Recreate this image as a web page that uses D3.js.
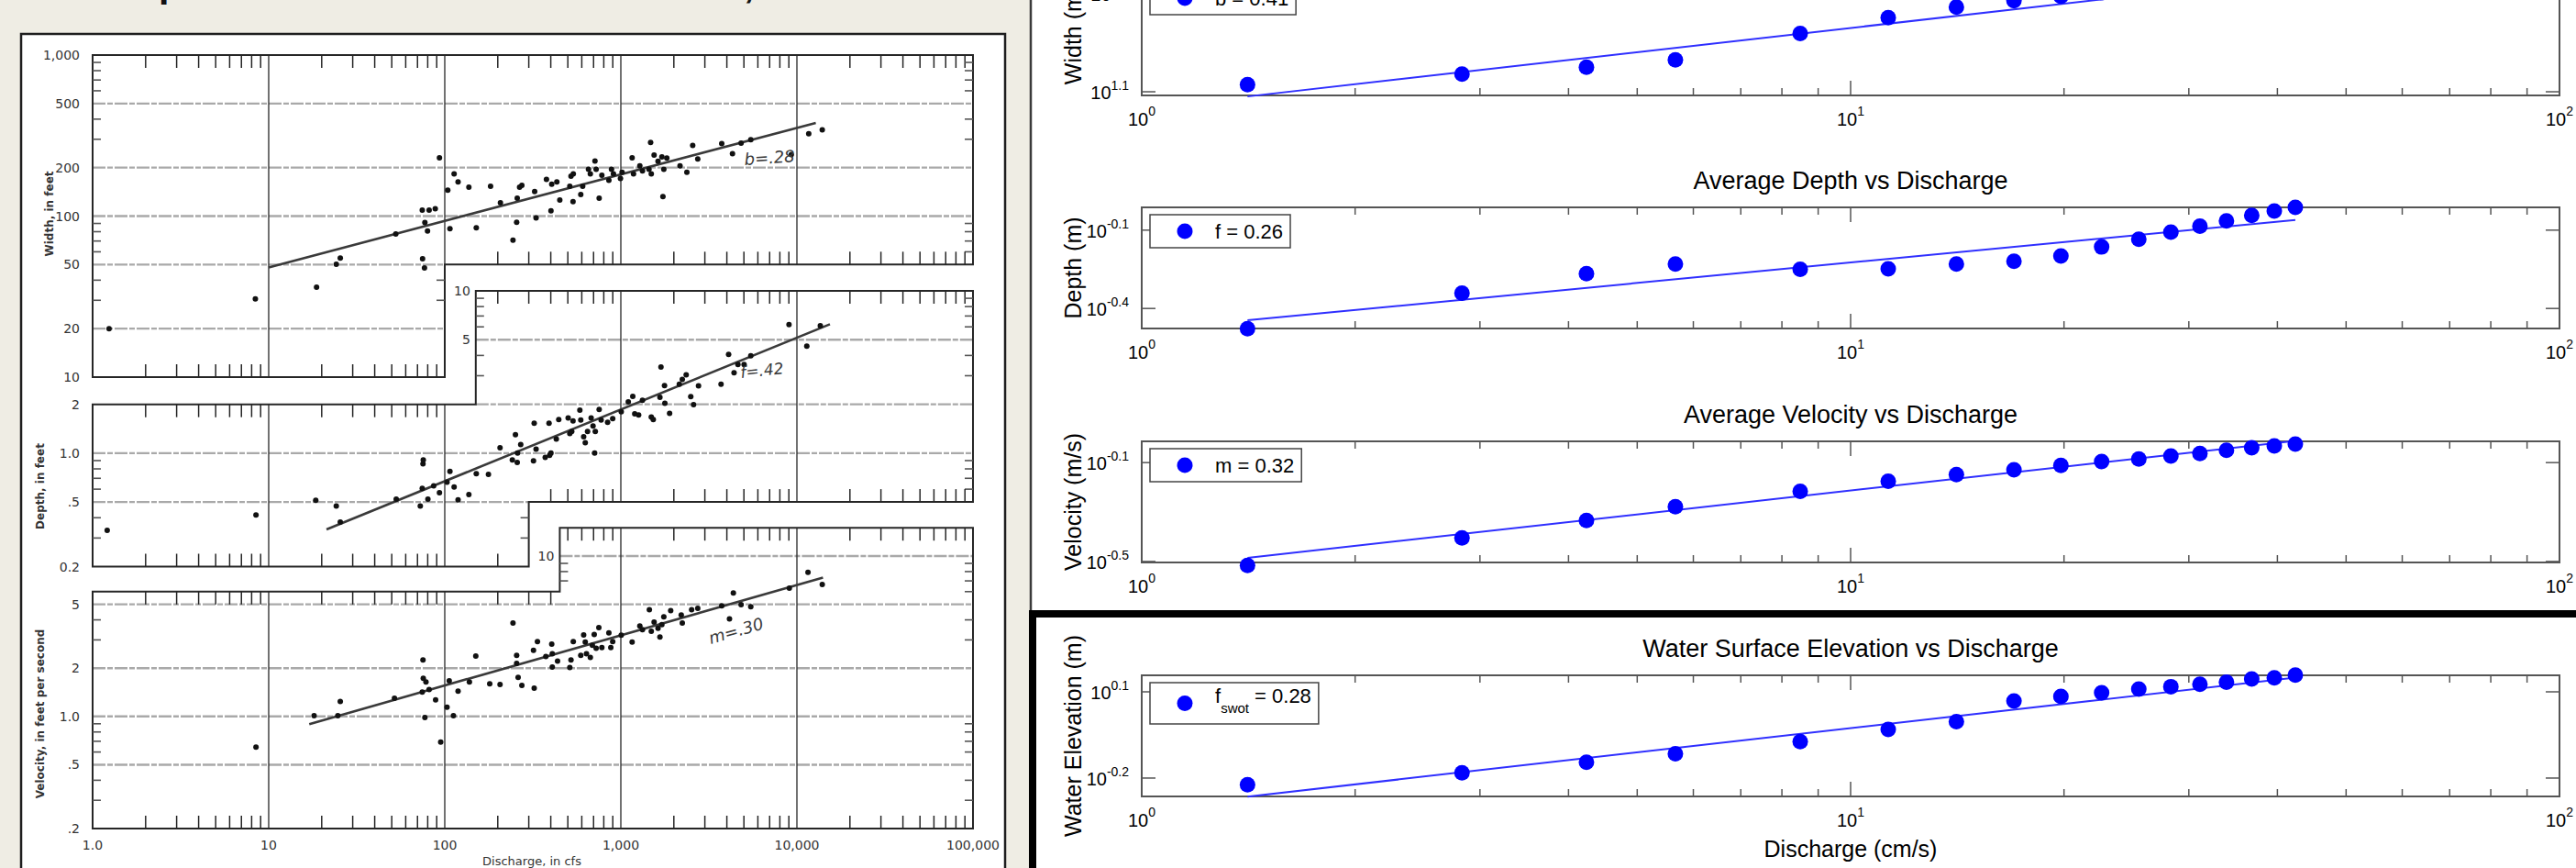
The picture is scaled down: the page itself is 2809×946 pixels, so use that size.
<!DOCTYPE html>
<html><head><meta charset="utf-8">
<script src="https://cdn.jsdelivr.net/npm/d3@7"></script>
<style>html,body{margin:0;padding:0;background:#efede4;overflow:hidden}</style>
</head><body>
<svg id="c" width="2809" height="946"></svg>
<script>
// ===================== DATA =====================
// --- Left: scanned field data (discharge in cfs) ---
const widthQ = [1.24,8.4,18.7,24.2,25.5,52.7,74.5,81.5,88.3,77.1,79.8,74.8,76.7,93.3,104,107,113,119,137,151,182,207,244,256,258,266,274,324,330,378,401,405,433,450,513,521,535,537,592,607,655,671,713,724,753,780,855,885,908,995,1016,1159,1180,1282,1327,1445,1476,1489,1545,1626,1710,1734,1754,1824,2168,2371,2559,2735,3741,4305,4819,5470,9290,11670,13930];
const widthFt = [20,30.6,36.2,50.2,54.8,77.4,109,109,111,91.2,80.9,54.3,47.6,230,145,83.4,183,163,151,84.5,153,121,70.8,91.6,129,151,155,142,97.3,169,108,158,163,126,153,177,123,183,136,153,195,183,220,195,129,179,167,195,183,171,187,230,183,205,191,195,287,183,239,219,233,132,195,229,205,187,275,226,282,244,284,298,241,325,343];
const depthQ = [1.21,8.47,18.5,24.2,25.5,53.0,72.6,74.5,75.2,75.5,80.2,86.5,93.3,103,107,113,119,137,151,177,206,242,252,258,259,270,319,322,330,372,391,394,401,430,444,502,513,526,535,585,592,615,628,647,678,695,710,716,753,773,841,899,1005,1102,1169,1199,1262,1327,1489,1528,1667,1690,1778,1770,1892,2148,2234,2350,2495,2588,2761,3707,4093,4395,4624,5012,5470,9016,11380,13580];
const depthFt = [0.334,0.416,0.512,0.473,0.376,0.521,0.473,0.607,0.859,0.908,0.521,0.628,0.571,0.662,0.771,0.619,0.516,0.556,0.748,0.741,1.08,0.908,1.30,0.877,1.00,1.13,0.897,1.53,1.06,0.942,1.53,0.970,1.00,1.22,1.61,1.65,1.32,1.36,1.58,1.84,1.60,1.26,1.16,1.36,1.65,1.47,1.00,1.36,1.86,1.60,1.55,1.63,1.80,2.07,2.24,1.75,1.72,2.12,1.67,1.61,2.21,3.39,2.03,2.61,1.76,2.66,2.85,3.04,2.23,1.99,2.60,2.66,4.06,3.13,3.52,3.52,3.98,6.19,4.57,6.10];
const velQ = [8.47,18.1,24.7,25.5,51.8,75.2,75.5,78.2,74.5,77.1,81.5,88.7,94.8,103,106,112,119,138,150,180,206,244,256,256,261,274,319,322,336,375,405,408,408,437,513,521,537,592,615,628,638,671,689,706,724,750,780,855,877,899,1005,1159,1282,1327,1452,1489,1545,1626,1667,1710,1754,1919,2203,2234,2523,2735,3741,4140,4355,4819,5470,9057,11560,13930];
const velFps = [0.643,1.01,1.01,1.24,1.30,2.25,1.73,1.64,1.42,0.986,1.47,1.27,0.693,1.14,1.67,1.01,1.44,1.64,2.38,1.60,1.58,3.82,2.40,2.14,1.75,1.56,2.58,1.50,2.93,2.36,2.82,2.03,2.46,2.21,2.02,2.25,2.93,2.40,3.22,2.91,2.46,2.33,2.78,3.24,2.66,3.58,2.69,3.32,2.69,2.93,3.21,2.91,3.66,3.47,4.62,3.40,3.87,3.55,3.13,3.74,4.18,4.56,4.29,3.82,4.62,4.72,4.90,4.05,5.89,4.98,4.83,6.30,7.91,6.64];
// fitted lines (end points)
const widthFitQ = [10, 12800], widthFitFt = [48, 379];
const depthFitQ = [21.3, 15400], depthFitFt = [0.339, 6.23];
const velFitQ = [17.0, 14060], velFitFps = [0.895, 7.34];
const leftExponentLabels = ["b=.28", "f=.42", "m=.30"];
// axis ticks / labels
const dischargeTicks = [1, 10, 100, 1000, 10000, 100000];
const dischargeTickText = ["1.0", "10", "100", "1,000", "10,000", "100,000"];
const widthTickVals = [1000, 500, 200, 100, 50, 20, 10];
const widthTickText = ["1,000", "500", "200", "100", "50", "20", "10"];
const depthTickVals = [10, 5, 2, 1, 0.5, 0.2];
const depthTickText = ["10", "5", "2", "1.0", ".5", "0.2"];
const velTickVals = [10, 5, 2, 1, 0.5, 0.2];
const velTickText = ["10", "5", "2", "1.0", ".5", ".2"];
// panel outlines (discharge, value) of the stacked scanned graph
const widthFrameQ = [1, 1e5, 1e5, 100, 100, 1],  widthFrameV = [1000, 1000, 50, 50, 10, 10];
const depthFrameQ = [150, 1e5, 1e5, 300, 300, 1, 1, 150], depthFrameV = [10, 10, 0.5, 0.5, 0.2, 0.2, 2, 2];
const velFrameQ = [450, 1e5, 1e5, 1, 1, 450], velFrameV = [15, 15, 0.2, 0.2, 6, 6];

// --- Right: model results ---
const modelQ = [1.41, 2.83, 4.24, 5.66, 8.49, 11.3, 14.1, 17.0, 19.8, 22.6, 25.5, 28.3, 31.1, 33.9, 36.8, 39.6, 42.4];
const modelWidth = [13.7, 15.5, 16.8, 18.3, 24.9, 30.0, 34.0, 36.6, 38.5, 40.3, 41.9, 43.4, 44.9, 46.2, 47.5, 48.8, 50.0];
const modelDepth = [0.333, 0.456, 0.541, 0.589, 0.562, 0.565, 0.589, 0.604, 0.632, 0.685, 0.733, 0.780, 0.822, 0.861, 0.904, 0.940, 0.971];
const modelVelocity = [0.305, 0.394, 0.463, 0.527, 0.608, 0.668, 0.710, 0.743, 0.774, 0.802, 0.822, 0.845, 0.865, 0.891, 0.912, 0.927, 0.944];
const modelWSE = [0.598, 0.658, 0.716, 0.766, 0.845, 0.931, 0.991, 1.170, 1.213, 1.250, 1.288, 1.312, 1.337, 1.361, 1.396, 1.409, 1.439];
const fitExponent = [0.41, 0.26, 0.32, 0.28];
const fitCoefficient = [10.35, 0.328, 0.293, 0.494];
const legendSymbol = ["b", "f", "m", "f"];
const legendSub = ["", "", "", "swot"];
const rightTitles = ["Average Width vs Discharge", "Average Depth vs Discharge", "Average Velocity vs Discharge", "Water Surface Elevation vs Discharge"];
const rightYLabels = ["Width (m)", "Depth (m)", "Velocity (m/s)", "Water Elevation (m)"];
const rightYDomains = [[12.06, 49.9], [0.3337, 0.971], [0.3133, 0.9683], [0.5446, 1.437]];
const rightYTickExp = [[1.1, 1.6], [-0.1, -0.4], [-0.1, -0.5], [0.1, -0.2]];
const rightYTickText = [["1.1", "1.6"], ["-0.1", "-0.4"], ["-0.1", "-0.5"], ["0.1", "-0.2"]];
const rightXTickExp = [0, 1, 2];

// ===================== DRAW =====================
const svg = d3.select('#c');
svg.append('rect').attr('width', 2809).attr('height', 946).attr('fill', '#efede4');

// slide title (only descenders visible, as in the reference)
svg.append('text').attr('x', 82).attr('y', -3)
  .attr('font-family', 'Liberation Sans, Arial, sans-serif').attr('font-weight', 'bold').attr('font-size', 41)
  .attr('fill', '#111').text('Comparison with field measurements,');

// ---------- LEFT: scanned graph ----------
const L = svg.append('g');
L.append('rect').attr('x', 23).attr('y', 37).attr('width', 1073).attr('height', 940)
  .attr('fill', '#fff').attr('stroke', '#1e1e1e').attr('stroke-width', 2.5);

const xL = d3.scaleLog().domain([1, 1e5]).range([101, 1061]);
const yW = d3.scaleLog().domain([10, 1000]).range([411, 60]);
const yD = d3.scaleLog().domain([0.2, 10]).range([617.5, 317]);
const yV = d3.scaleLog().domain([0.2, 10]).range([903, 606]);
const INK = '#262626';
const scanFont = 'DejaVu Sans, Verdana, sans-serif';

function minorVals(a, b, skip) {
  const out = [];
  for (let e = -2; e <= 6; e++) for (let k = 2; k <= 9; k++) {
    const v = +(k * Math.pow(10, e)).toPrecision(6);
    if (v > a * 1.0001 && v < b * 0.9999 && !(skip || []).some(s => Math.abs(s - v) / v < 1e-6)) out.push(v);
  }
  return out;
}

const leftPanels = [
  { y: yW, fq: widthFrameQ, fv: widthFrameV, Q: widthQ, V: widthFt, fitQ: widthFitQ, fitV: widthFitFt,
    tv: widthTickVals, tt: widthTickText, tq: [1, 1, 1, 1, 1, 1, 1],
    hgrid: [[500, 1, 1e5], [200, 1, 1e5], [100, 1, 1e5], [50, 1, 100], [20, 1, 100]],
    vgrid: [[10, 10, 1000], [100, 50, 1000], [1000, 50, 1000], [10000, 50, 1000]],
    lab: 'Width, in feet', labY: 233, labX: 58 },
  { y: yD, fq: depthFrameQ, fv: depthFrameV, Q: depthQ, V: depthFt, fitQ: depthFitQ, fitV: depthFitFt,
    tv: depthTickVals, tt: depthTickText, tq: [150, 150, 1, 1, 1, 1],
    hgrid: [[5, 150, 1e5], [2, 150, 1e5], [1, 1, 1e5], [0.5, 1, 300]],
    vgrid: [[10, 0.2, 2], [100, 0.2, 2], [1000, 0.5, 10], [10000, 0.5, 10]],
    lab: 'Depth, in feet', labY: 530, labX: 48 },
  { y: yV, fq: velFrameQ, fv: velFrameV, Q: velQ, V: velFps, fitQ: velFitQ, fitV: velFitFps,
    tv: velTickVals, tt: velTickText, tq: [450, 1, 1, 1, 1, 1],
    hgrid: [[10, 450, 1e5], [5, 1, 1e5], [2, 1, 1e5], [1, 1, 1e5], [0.5, 1, 1e5]],
    vgrid: [[10, 0.2, 6], [100, 0.2, 6], [1000, 0.2, 15], [10000, 0.2, 15]],
    lab: 'Velocity, in feet per second', labY: 778, labX: 48 }
];

leftPanels.forEach(p => {
  const g = L.append('g');
  p.hgrid.forEach(([v, a, b]) => g.append('line')
    .attr('x1', xL(a)).attr('x2', xL(b)).attr('y1', p.y(v)).attr('y2', p.y(v))
    .attr('stroke', '#a9a9a9').attr('stroke-width', 2.4).attr('stroke-dasharray', '14 2 6 2'));
  p.vgrid.forEach(([q, a, b]) => g.append('line')
    .attr('x1', xL(q)).attr('x2', xL(q)).attr('y1', p.y(a)).attr('y2', p.y(b))
    .attr('stroke', INK).attr('stroke-width', 1.3));
  const pts = p.fq.map((q, i) => [xL(q), p.y(p.fv[i])]);
  g.append('path').attr('d', d3.line()(pts) + 'Z').attr('fill', 'none')
    .attr('stroke', INK).attr('stroke-width', 2);
  const n = p.fq.length;
  for (let i = 0; i < n; i++) {
    const j = (i + 1) % n;
    const q1 = p.fq[i], q2 = p.fq[j], v1 = p.fv[i], v2 = p.fv[j];
    if (v1 === v2) {
      const dir = q2 > q1 ? 1 : -1, y0 = p.y(v1);
      minorVals(Math.min(q1, q2), Math.max(q1, q2)).forEach(q => g.append('line')
        .attr('x1', xL(q)).attr('x2', xL(q)).attr('y1', y0).attr('y2', y0 + dir * 14)
        .attr('stroke', INK).attr('stroke-width', 1.5));
    } else {
      const x0 = xL(q1);
      const dir = p.y(v2) > p.y(v1) ? -1 : 1;
      minorVals(Math.min(v1, v2), Math.max(v1, v2), p.tv).forEach(v => g.append('line')
        .attr('x1', x0).attr('x2', x0 + dir * 9).attr('y1', p.y(v)).attr('y2', p.y(v))
        .attr('stroke', '#555').attr('stroke-width', 1.6));
    }
  }
  // tick labels
  p.tv.forEach((v, i) => g.append('text')
    .attr('x', xL(p.tq[i]) - (p.tq[i] === 1 ? 14 : 6)).attr('y', p.y(v) + 5)
    .attr('text-anchor', 'end').attr('font-family', scanFont).attr('font-size', 14)
    .attr('fill', '#333').text(p.tt[i]));
  // axis title
  g.append('text').attr('transform', `translate(${p.labX},${p.labY}) rotate(-90)`)
    .attr('text-anchor', 'middle').attr('font-family', scanFont).attr('font-weight', 'bold')
    .attr('font-size', 12).attr('fill', '#333').text(p.lab);
  // fit line
  g.append('path').attr('d', d3.line()(p.fitQ.map((q, i) => [xL(q), p.y(p.fitV[i])])))
    .attr('stroke', '#3a3a3a').attr('stroke-width', 2.6).attr('fill', 'none');
  // points
  g.selectAll('circle').data(d3.range(Math.min(p.Q.length, p.V.length))).join('circle')
    .attr('cx', i => xL(p.Q[i])).attr('cy', i => p.y(p.V[i])).attr('r', 3).attr('fill', '#111');
});

// exponent annotations (hand-lettered in the scan)
const annot = [
  { t: leftExponentLabels[0], x: 812, y: 180, r: -4, s: 18 },
  { t: leftExponentLabels[1], x: 808, y: 412, r: -6, s: 17 },
  { t: leftExponentLabels[2], x: 775, y: 702, r: -16, s: 18 }
];
annot.forEach(a => L.append('text').attr('transform', `translate(${a.x},${a.y}) rotate(${a.r})`)
  .attr('font-family', 'DejaVu Sans, sans-serif').attr('font-style', 'italic').attr('font-size', a.s)
  .attr('fill', '#3a3a3a').text(a.t));

// discharge labels
dischargeTicks.forEach((q, i) => L.append('text').attr('x', xL(q)).attr('y', 926)
  .attr('text-anchor', 'middle').attr('font-family', scanFont).attr('font-size', 14).attr('fill', '#333')
  .text(dischargeTickText[i]));
L.append('text').attr('x', 580).attr('y', 943).attr('text-anchor', 'middle')
  .attr('font-family', scanFont).attr('font-size', 13).attr('fill', '#333').text('Discharge, in cfs');

// ---------- RIGHT: model panels ----------
const R = svg.append('g');
R.append('rect').attr('x', 1124).attr('y', -10).attr('width', 1700).attr('height', 1000).attr('fill', '#fff');
R.append('line').attr('x1', 1124).attr('x2', 1124).attr('y1', 0).attr('y2', 946)
  .attr('stroke', '#3a3a3a').attr('stroke-width', 2.5);

const xR = d3.scaleLog().domain([1, 100]).range([1245, 2791]);
const panelTop = [-28, 226, 481, 736], panelH = 132;
const rightVals = [modelWidth, modelDepth, modelVelocity, modelWSE];
const FONT = 'Liberation Sans, Arial, Helvetica, sans-serif';
const AX = '#555';

rightVals.forEach((vals, pi) => {
  const top = panelTop[pi], bot = top + panelH;
  const y = d3.scaleLog().domain(rightYDomains[pi]).range([bot, top]);
  const g = R.append('g');
  const [x0, x1] = xR.range();
  // x ticks
  for (let e = 0; e < 2; e++) for (let k = 2; k <= 10; k++) {
    const q = k * Math.pow(10, e);
    if (q >= 100) continue;
    const len = k === 10 ? 16 : 8;
    g.append('line').attr('x1', xR(q)).attr('x2', xR(q)).attr('y1', bot).attr('y2', bot - len).attr('stroke', AX).attr('stroke-width', 1.5);
    g.append('line').attr('x1', xR(q)).attr('x2', xR(q)).attr('y1', top).attr('y2', top + len).attr('stroke', AX).attr('stroke-width', 1.5);
  }
  // y ticks + labels
  rightYTickExp[pi].forEach((e, i) => {
    const yy = y(Math.pow(10, e));
    g.append('line').attr('x1', x0).attr('x2', x0 + 15).attr('y1', yy).attr('y2', yy).attr('stroke', AX).attr('stroke-width', 1.5);
    g.append('line').attr('x1', x1).attr('x2', x1 - 15).attr('y1', yy).attr('y2', yy).attr('stroke', AX).attr('stroke-width', 1.5);
    const t = g.append('text').attr('x', x0 - 14).attr('y', yy + 8).attr('text-anchor', 'end')
      .attr('font-family', FONT).attr('font-size', 20).attr('fill', '#000');
    t.append('tspan').text('10');
    t.append('tspan').attr('dy', -10).attr('font-size', 14).text(rightYTickText[pi][i]);
  });
  // x tick labels
  rightXTickExp.forEach(e => {
    const t = g.append('text').attr('x', xR(Math.pow(10, e))).attr('y', bot + 33).attr('text-anchor', 'middle')
      .attr('font-family', FONT).attr('font-size', 20).attr('fill', '#000');
    t.append('tspan').text('10');
    t.append('tspan').attr('dy', -11).attr('font-size', 14).text(String(e));
  });
  // box
  g.append('rect').attr('x', x0).attr('y', top).attr('width', x1 - x0).attr('height', panelH)
    .attr('fill', 'none').attr('stroke', AX).attr('stroke-width', 2);
  // title
  if (top - 20 > 0) g.append('text').attr('x', (x0 + x1) / 2).attr('y', top - 20).attr('text-anchor', 'middle')
    .attr('font-family', FONT).attr('font-size', 27).attr('fill', '#000').text(rightTitles[pi]);
  // y label
  g.append('text').attr('transform', `translate(1179,${(top + bot) / 2}) rotate(-90)`).attr('text-anchor', 'middle')
    .attr('font-family', FONT).attr('font-size', 25).attr('fill', '#000').text(rightYLabels[pi]);
  // fit line
  const qa = modelQ[0], qb = modelQ[modelQ.length - 1];
  const fit = q => fitCoefficient[pi] * Math.pow(q, fitExponent[pi]);
  g.append('path').attr('d', d3.line()([[xR(qa), y(fit(qa))], [xR(qb), y(fit(qb))]]))
    .attr('stroke', '#2f2fff').attr('stroke-width', 2).attr('fill', 'none');
  // points
  g.selectAll('circle.pt').data(d3.range(Math.min(modelQ.length, vals.length))).join('circle')
    .attr('class', 'pt').attr('cx', i => xR(modelQ[i])).attr('cy', i => y(vals[i])).attr('r', 8.5).attr('fill', '#0000ff');
  // legend
  const lt = top + 8, lh = legendSub[pi] ? 45 : 36, lx = 1254;
  const box = g.append('rect').attr('x', lx).attr('y', lt).attr('height', lh).attr('fill', '#fff')
    .attr('stroke', '#444').attr('stroke-width', 1.5);
  g.append('circle').attr('cx', lx + 38).attr('cy', lt + lh / 2).attr('r', 8.5).attr('fill', '#0000ff');
  const txt = g.append('text').attr('x', lx + 71).attr('y', lt + (legendSub[pi] ? 22 : 26))
    .attr('font-family', FONT).attr('font-size', 22).attr('fill', '#000');
  txt.append('tspan').text(legendSymbol[pi]);
  if (legendSub[pi]) {
    txt.append('tspan').attr('dy', 11).attr('font-size', 15).text(legendSub[pi]);
    txt.append('tspan').attr('dy', -11).text(' = ' + fitExponent[pi].toFixed(2));
  } else {
    txt.append('tspan').text(' = ' + fitExponent[pi].toFixed(2));
  }
  const tw = txt.node().getComputedTextLength();
  box.attr('width', 71 + tw + 8);
  if (pi === rightVals.length - 1) {
    g.append('text').attr('x', (x0 + x1) / 2).attr('y', bot + 66).attr('text-anchor', 'middle')
      .attr('font-family', FONT).attr('font-size', 25).attr('fill', '#000').text('Discharge (cm/s)');
  }
});

// highlight frame around the last panel
R.append('rect').attr('x', 1126).attr('y', 669).attr('width', 1720).attr('height', 320)
  .attr('fill', 'none').attr('stroke', '#000').attr('stroke-width', 8);
</script>
</body></html>
